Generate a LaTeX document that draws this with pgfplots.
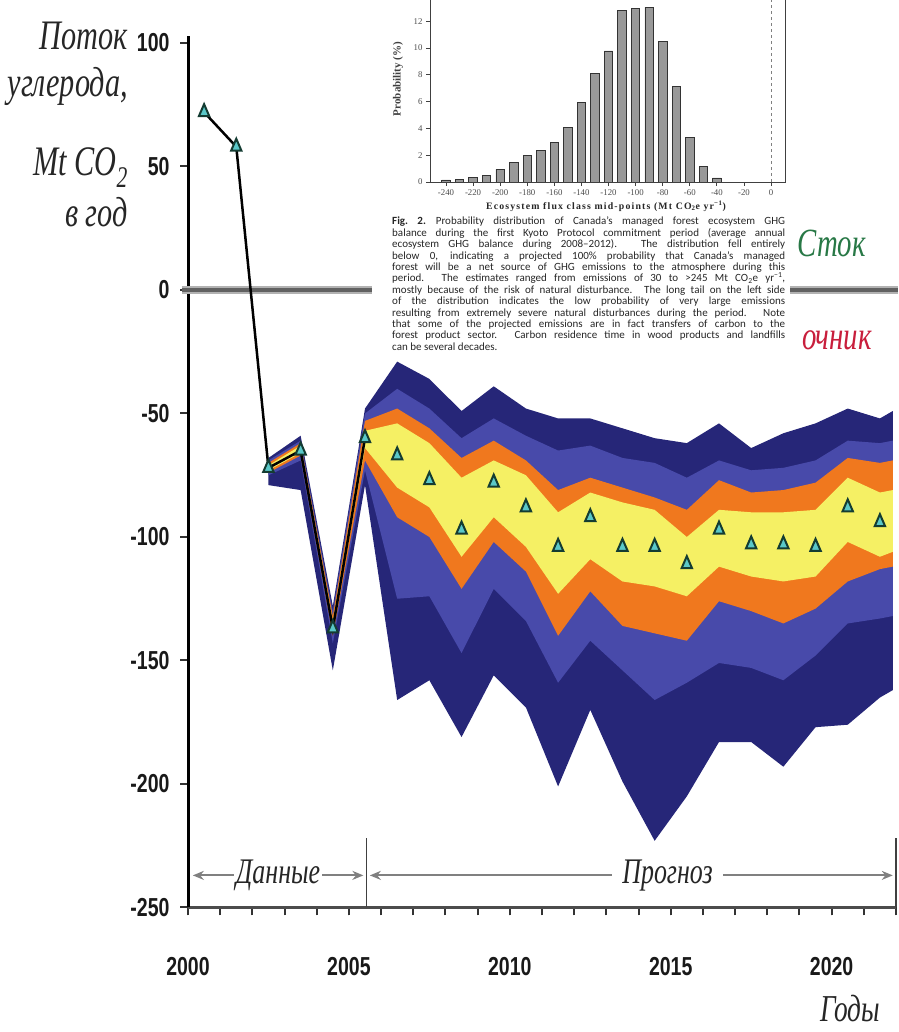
\documentclass[border=0pt]{standalone}
\usepackage{fontspec}
\setmainfont{Liberation Serif}
\newfontfamily\numfont[FakeStretch=0.75]{Liberation Sans}
\newfontfamily\rusfont[FakeStretch=0.72]{Liberation Serif}
\newfontfamily\capfont{Carlito}
\usepackage{pgfplots}
\pgfplotsset{compat=1.18}
\usepgfplotslibrary{fillbetween}
\usetikzlibrary{arrows.meta}

\definecolor{navy}{RGB}{38,38,120}
\definecolor{midblue}{RGB}{72,74,170}
\definecolor{orng}{RGB}{240,120,30}
\definecolor{yell}{RGB}{245,240,100}
\definecolor{trifill}{RGB}{90,200,200}
\definecolor{tridraw}{RGB}{20,60,50}
\definecolor{stokgreen}{RGB}{40,120,70}
\definecolor{istred}{RGB}{200,30,60}

% band boundaries, top to bottom
\pgfplotstableread{
yr t1 t2 t3 t4 b4 b3 b2 b1
2002.5 -68 -69 -70 -71 -73 -74 -75 -79
2003.5 -59 -61 -62 -63 -66 -67 -69 -81
2004.5 -128 -130 -132 -134 -138 -140 -143 -154
2005.5 -48 -50 -53 -57 -64 -69 -73 -79
2006.5 -29 -40 -48 -54 -80 -92 -125 -166
2007.5 -36 -48 -56 -62 -88 -100 -124 -158
2008.5 -49 -60 -68 -76 -108 -121 -147 -181
2009.5 -39 -52 -61 -69 -92 -102 -121 -156
2010.5 -48 -59 -69 -75 -104 -114 -134 -169
2011.5 -52 -65 -81 -90 -123 -140 -159 -201
2012.5 -52 -63 -76 -82 -109 -122 -142 -170
2013.5 -56 -68 -80 -86 -118 -136 -154 -199
2014.5 -60 -70 -84 -89 -120 -139 -166 -223
2015.5 -62 -76 -89 -100 -124 -142 -159 -205
2016.5 -54 -69 -77 -89 -112 -126 -151 -183
2017.5 -64 -73 -82 -90 -116 -130 -153 -183
2018.5 -58 -72 -81 -90 -118 -135 -158 -193
2019.5 -54 -69 -78 -89 -116 -129 -148 -177
2020.5 -48 -61 -68 -76 -102 -118 -135 -176
2021.5 -52 -62 -70 -82 -108 -113 -133 -165
2021.9 -49 -61 -69 -81 -106 -112 -132 -162
}\bands

\begin{document}
\begin{tikzpicture}

% main chart
\begin{axis}[
    at={(188pt,124.5pt)}, anchor=south west,
    scale only axis, width=708pt, height=871.9pt,
    xmin=2000, xmax=2022, ymin=-250, ymax=103,
    clip=false,
    axis lines*=left, axis line style={-},
    x axis line style={line width=3pt, black!70},
    y axis line style={line width=3pt, black},
    tick align=outside,
    major tick length=8pt, minor tick length=8pt,
    tick style={line width=2pt, black!80},
    xtick={2000,2005,2010,2015,2020},
    xticklabels={2000,2005,2010,2015,2020},
    minor xtick={2001,...,2022},
    ytick={-250,-200,-150,-100,-50,0,50,100},
    yticklabels={-250,-200,-150,-100,-50,0,50,100},
    ticklabel style={font=\numfont\bfseries\fontsize{26}{28}\selectfont, text=black!90},
    xticklabel style={yshift=-38pt},
    yticklabel style={xshift=-7pt},
]
\draw[line width=8pt, black!30] (axis cs:1999.8,0) -- (axis cs:2022.05,0);
\draw[line width=4pt, black!62] (axis cs:1999.8,0) -- (axis cs:2022.05,0);

\addplot[draw=none, name path=t1, forget plot] table[x=yr, y=t1] {\bands};
\addplot[draw=none, name path=t2, forget plot] table[x=yr, y=t2] {\bands};
\addplot[draw=none, name path=t3, forget plot] table[x=yr, y=t3] {\bands};
\addplot[draw=none, name path=t4, forget plot] table[x=yr, y=t4] {\bands};
\addplot[draw=none, name path=b4, forget plot] table[x=yr, y=b4] {\bands};
\addplot[draw=none, name path=b3, forget plot] table[x=yr, y=b3] {\bands};
\addplot[draw=none, name path=b2, forget plot] table[x=yr, y=b2] {\bands};
\addplot[draw=none, name path=b1, forget plot] table[x=yr, y=b1] {\bands};
\addplot[fill=navy, draw=none] fill between[of=t1 and b1];
\addplot[fill=midblue, draw=none] fill between[of=t2 and b2];
\addplot[fill=orng, draw=none] fill between[of=t3 and b3];
\addplot[fill=yell, draw=none] fill between[of=t4 and b4];

% observed data
\addplot[black, line width=2.5pt, mark=triangle*, mark size=8pt,
  mark options={xscale=0.75, fill=trifill, draw=tridraw, line width=2pt, solid}]
  coordinates {(2000.5,72) (2001.5,58) (2002.5,-72) (2003.5,-65) (2004.5,-137) (2005.5,-60)};
% projection
\addplot[only marks, mark=triangle*, mark size=8pt,
  mark options={xscale=0.75, fill=trifill, draw=tridraw, line width=2pt}]
  coordinates {(2006.5,-67) (2007.5,-77) (2008.5,-97) (2009.5,-78) (2010.5,-88)
  (2011.5,-104) (2012.5,-92) (2013.5,-104) (2014.5,-104) (2015.5,-111)
  (2016.5,-97) (2017.5,-103) (2018.5,-103) (2019.5,-104) (2020.5,-88) (2021.5,-94)};

\draw[black!75, line width=1.5pt] (axis cs:2005.55,-250) -- (axis cs:2005.55,-222);
\draw[black!75, line width=1.5pt] (axis cs:2022,-250) -- (axis cs:2022,-222);
\draw[black!50, line width=2pt, {Stealth[open,length=11pt,width=9pt]}-{Stealth[open,length=11pt,width=9pt]}]
  (axis cs:2000.15,-237) -- (axis cs:2005.45,-237);
\draw[black!50, line width=2pt, {Stealth[open,length=11pt,width=9pt]}-{Stealth[open,length=11pt,width=9pt]}]
  (axis cs:2005.65,-237) -- (axis cs:2021.9,-237);
\node[fill=white, inner sep=2pt, font=\rusfont\itshape\fontsize{36}{40}\selectfont, text=black!85]
  at (axis cs:2002.8,-237) {Данные};
\node[fill=white, inner xsep=10pt, inner ysep=2pt, font=\rusfont\itshape\fontsize{36}{40}\selectfont, text=black!85]
  at (axis cs:2014.9,-237) {Прогноз};
\end{axis}

% labels of the main chart
\begin{scope}[every node/.style={anchor=base east, font=\rusfont\itshape\fontsize{42}{44}\selectfont, text=black!85, inner sep=0pt}]
\node at (128pt,982pt) {Поток};
\node at (128pt,935pt) {углерода,};
\node at (128pt,856pt) {Mt CO\textsubscript{\fontsize{30}{32}\selectfont 2}};
\node at (128pt,805pt) {в год};
\end{scope}
\node[anchor=base east, inner sep=0pt, font=\rusfont\itshape\fontsize{40}{44}\selectfont, text=stokgreen] at (866pt,775pt) {Сток};
% the first letters of this word lie under the inset
\node[anchor=base east, inner sep=0pt, font=\rusfont\itshape\fontsize{40}{44}\selectfont, text=istred] at (872pt,682pt) {очник};
\node[anchor=base, inner sep=0pt, font=\rusfont\itshape\fontsize{38}{40}\selectfont, text=black!85] at (850pt,10pt) {Годы};

% inset figure
\fill[white] (372pt,674pt) rectangle (790pt,1032pt);
\begin{axis}[
    at={(430pt,850pt)}, anchor=south west,
    scale only axis, width=355pt, height=187.6pt,
    xmin=-251.8, xmax=10.3, ymin=0, ymax=14,
    axis line style={black!75, line width=0.9pt},
    tick align=outside, xtick pos=left, ytick pos=left,
    major tick length=4pt, tick style={black!75, line width=0.8pt},
    xtick={-240,-220,...,0},
    xticklabels={-240,-220,-200,-180,-160,-140,-120,-100,-80,-60,-40,-20,0},
    ytick={0,2,...,12},
    yticklabels={0,2,4,6,8,10,12},
    ticklabel style={font=\fontsize{8.8}{9}\selectfont, text=black!70},
]
\addplot[ybar, bar width=6.2, fill=black!40, draw=black!80, line width=0.8pt]
  coordinates {(-240,0.15) (-230,0.17) (-220,0.35) (-210,0.52) (-200,0.94) (-190,1.49)
  (-180,1.99) (-170,2.33) (-160,2.95) (-150,4.07) (-140,5.93) (-130,8.11) (-120,9.78)
  (-110,12.8) (-100,12.95) (-90,13.03) (-80,10.5) (-70,7.12) (-60,3.33) (-50,1.19) (-40,0.3)};
\draw[black!50, dashed, line width=0.7pt] (axis cs:0,0) -- (axis cs:0,14);
\end{axis}
\node[rotate=90, font=\bfseries\fontsize{11}{12}\selectfont, text=black!75] at (398pt,953pt) {Probability (\%)};
\node[font=\bfseries\fontsize{9.8}{10}\selectfont, text=black!85] at (606pt,826pt)
  {\addfontfeature{LetterSpace=12}Ecosystem flux class mid-points (Mt CO\textsubscript{2}e yr\textsuperscript{−1})};
\node[anchor=north west, inner sep=0pt, text width=393pt, align=justify, font=\capfont\fontsize{11}{11.4}\selectfont, text=black!85]
  at (392pt,815pt) {\textbf{Fig.~2.}\hspace{0.9em}Probability distribution of Canada’s managed forest ecosystem GHG\linebreak
balance during the first Kyoto Protocol commitment period (average annual\linebreak
ecosystem GHG balance during 2008–2012). The distribution fell entirely\linebreak
below 0, indicating a projected 100\% probability that Canada’s managed\linebreak
forest will be a net source of GHG emissions to the atmosphere during this\linebreak
period. The estimates ranged from emissions of 30 to >245 Mt CO\textsubscript{2}e yr\textsuperscript{−1},\linebreak
mostly because of the risk of natural disturbance. The long tail on the left side\linebreak
of the distribution indicates the low probability of very large emissions\linebreak
resulting from extremely severe natural disturbances during the period. Note\linebreak
that some of the projected emissions are in fact transfers of carbon to the\linebreak
forest product sector. Carbon residence time in wood products and landfills\linebreak
can be several decades.};
\pgfresetboundingbox
\useasboundingbox (0,0) rectangle (898pt,1032pt);
\end{tikzpicture}
\end{document}
